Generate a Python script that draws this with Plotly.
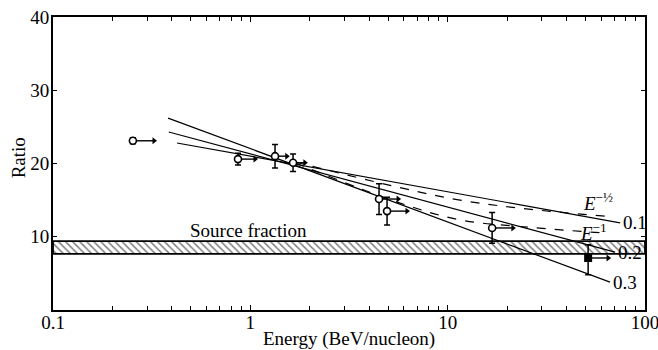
import math
import plotly.graph_objects as go

# ---- data ----
energy_open = [0.254, 0.866, 1.334, 1.646, 4.49, 4.93, 16.8]
ratio_open = [23.1, 20.6, 21.0, 20.1, 15.15, 13.5, 11.2]
err_open = [0.4, 0.8, 1.6, 1.2, 2.1, 1.9, 2.1]
arrow_open = [0.325, 1.056, 1.53, 1.89, 5.61, 6.22, 21.4]

energy_filled = [51.5]
ratio_filled = [7.1]
err_filled_up = [1.8]
err_filled_down = [2.3]
arrow_filled = [65.0]

band_low = 7.65
band_high = 9.4
band_energy = [0.1, 100.0]

line_01_energy = [0.425, 74.8]
line_01_ratio = [22.8, 11.9]
line_02_energy = [0.386, 70.5]
line_02_ratio = [24.3, 7.9]
line_03_energy = [0.383, 66.5]
line_03_ratio = [26.2, 3.8]

dash_energy = [1.685, 5.74, 11.56, 23.3, 62.8]
dash_half_ratio = [20.2, 16.7, 15.0, 13.9, 12.8]
dash_one_ratio = [20.1, 14.6, 12.3, 11.4, 10.5]

x_major = [0.1, 1, 10, 100]
x_major_text = ["0.1", "1", "10", "100"]
x_minor = [m * d for d in [0.1, 1, 10] for m in range(2, 10)]
y_ticks = [10, 20, 30, 40]

FONT = "Liberation Serif"
FS = 19
fig = go.Figure()

# hatched source-fraction band
fig.add_trace(go.Scatter(
    x=[band_energy[0], band_energy[1], band_energy[1], band_energy[0], band_energy[0]],
    y=[band_low, band_low, band_high, band_high, band_low],
    mode="lines", fill="toself", fillcolor="white",
    fillpattern=dict(shape="\\", size=5, solidity=0.3, fgcolor="black", bgcolor="white"),
    line=dict(color="black", width=1.8), hoverinfo="skip", showlegend=False))

# model lines
for ex, ry in [(line_01_energy, line_01_ratio), (line_02_energy, line_02_ratio), (line_03_energy, line_03_ratio)]:
    fig.add_trace(go.Scatter(x=ex, y=ry, mode="lines", line=dict(color="black", width=1.2), showlegend=False))
for ry in [dash_half_ratio, dash_one_ratio]:
    fig.add_trace(go.Scatter(x=dash_energy, y=ry, mode="lines", line=dict(color="black", width=1.2, dash="dash"),
                             line_shape="spline", showlegend=False))

# arrows (lower limits in energy)
ax, ay = [], []
for e0, e1, r in zip(energy_open + energy_filled, arrow_open + arrow_filled, ratio_open + ratio_filled):
    ax += [e0, e1, None]
    ay += [r, r, None]
fig.add_trace(go.Scatter(x=ax, y=ay, mode="lines", line=dict(color="black", width=1.4), showlegend=False))
fig.add_trace(go.Scatter(x=arrow_open + arrow_filled, y=ratio_open + ratio_filled, mode="markers",
                         marker=dict(symbol="triangle-right", size=6, color="black"), showlegend=False))

# data points
fig.add_trace(go.Scatter(
    x=energy_open, y=ratio_open, mode="markers",
    marker=dict(symbol="circle", size=7, color="white", line=dict(color="black", width=1.6)),
    error_y=dict(type="data", array=err_open, color="black", thickness=1.5, width=3),
    showlegend=False))
fig.add_trace(go.Scatter(
    x=energy_filled, y=ratio_filled, mode="markers",
    marker=dict(symbol="square", size=8, color="black"),
    error_y=dict(type="data", array=err_filled_up, arrayminus=err_filled_down, color="black", thickness=1.5, width=3),
    showlegend=False))

ann = []
ann.append(dict(x=-0.316, y=10.9, xref="x", yref="y", text="Source fraction", showarrow=False,
                xanchor="left", yanchor="middle", font=dict(size=FS)))
for lab, ex, ry in [("0.1", line_01_energy, line_01_ratio), ("0.2", line_02_energy, line_02_ratio),
                    ("0.3", line_03_energy, line_03_ratio)]:
    ann.append(dict(x=math.log10(ex[-1]), y=ry[-1], xref="x", yref="y", text=lab, showarrow=False,
                    xanchor="left", yanchor="middle", xshift=1, font=dict(size=FS)))
ann.append(dict(x=1.676, y=14.7, xref="x", yref="y", text="<i>E</i><sup>−½</sup>", showarrow=False,
                xanchor="left", yanchor="middle", font=dict(size=FS)))
ann.append(dict(x=1.66, y=10.6, xref="x", yref="y", text="<i>E</i><sup>−1</sup>", showarrow=False,
                xanchor="left", yanchor="middle", font=dict(size=FS)))
ann.append(dict(x=0.5, y=-0.1, xref="paper", yref="paper", text="Energy (BeV/nucleon)", showarrow=False,
                xanchor="center", yanchor="middle", font=dict(size=FS)))
ann.append(dict(x=-0.058, y=0.52, xref="paper", yref="paper", text="Ratio", showarrow=False, textangle=-90,
                xanchor="center", yanchor="middle", font=dict(size=FS)))

fig.update_layout(
    width=658, height=350,
    margin=dict(l=53, r=13, t=17, b=40, autoexpand=False),
    paper_bgcolor="white", plot_bgcolor="white",
    font=dict(family=FONT, size=FS, color="black"),
    showlegend=False,
    annotations=ann,
    xaxis=dict(type="log", range=[-1, 2], tickvals=x_major, ticktext=x_major_text, tickangle=0,
               ticks="inside", ticklen=5, tickwidth=1.2, tickcolor="black",
               minor=dict(tickvals=x_minor, ticks="inside", ticklen=4, tickwidth=1.2, tickcolor="black",
                          showgrid=False),
               ticklabelstandoff=-6, automargin=False, ticklabeloverflow="allow",
               showline=True, linecolor="black", linewidth=1.8, mirror="ticks",
               showgrid=False, zeroline=False),
    yaxis=dict(range=[0, 40], tickvals=y_ticks, ticks="inside", ticklen=4, tickwidth=1.2, tickcolor="black",
               ticklabelstandoff=-2, automargin=False, ticklabeloverflow="allow",
               showline=True, linecolor="black", linewidth=1.8, mirror="ticks",
               showgrid=False, zeroline=False),
)

fig.write_html("out.html", config={"displayModeBar": False})

# remove the browser's default page margin so the figure sits at the window's corner
with open("out.html", "r", encoding="utf-8") as f:
    html = f.read()
html = html.replace("<head>", "<head><style>html,body{margin:0;padding:0;overflow:hidden;}</style>", 1)
with open("out.html", "w", encoding="utf-8") as f:
    f.write(html)
